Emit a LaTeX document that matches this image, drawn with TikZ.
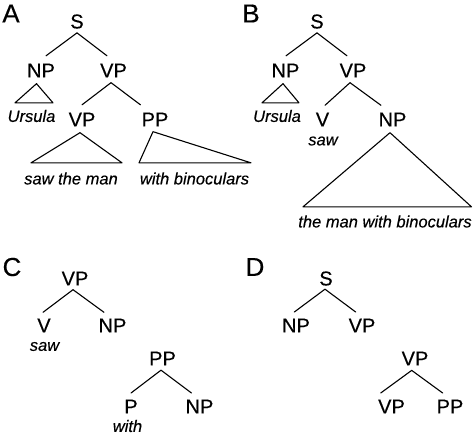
\documentclass[tikz,border=0pt]{standalone}
\usepackage{fontspec}
\setmainfont{Liberation Sans}[FakeBold=0.35]
\begin{document}
\begin{tikzpicture}[x=1pt,y=-1pt,
  lab/.style={font=\fontsize{20}{24}\selectfont, inner sep=0pt, outer sep=0pt},
  wrd/.style={font=\fontsize{16.5}{20}\selectfont\itshape, inner sep=0pt, outer sep=0pt},
  pan/.style={font=\fontsize{26}{30}\selectfont, inner sep=0pt},
  ln/.style={line width=1.1pt, line join=round, line cap=round}]
\useasboundingbox (0,0) rectangle (475,434);

% ---------- Panel A ----------
\node[pan] (lA) at (11,13.5) {A};
\node[lab] (AS) at (77,21.5) {S};
\node[lab] (ANP) at (41,70.5) {NP};
\node[lab] (AVP) at (113.5,70.5) {VP};
\node[wrd] (AUrs) at (31.5,116) {Ursula};
\node[lab] (AVPb) at (82,119.5) {VP};
\node[lab] (APP) at (155,119.5) {PP};
\node[wrd] (Asaw) at (71,178.5) {saw the man};
\node[wrd] (Awith) at (194.5,178.5) {with binoculars};

\draw[ln] ([yshift=-4.3pt]AS.south) -- ([shift={(5pt,7.8pt)}]ANP.north);
\draw[ln] ([yshift=-4.3pt]AS.south) -- ([shift={(-6.5pt,7.8pt)}]AVP.north);
\draw[ln] ([shift={(-2.5pt,-5.3pt)}]AVP.south) -- ([shift={(0pt,7.8pt)}]AVPb.north);
\draw[ln] ([shift={(-2.5pt,-5.3pt)}]AVP.south) -- ([shift={(-14.5pt,7.8pt)}]APP.north);
\draw[ln] ([shift={(-4.5pt,-6.3pt)}]ANP.south) -- ([shift={(-16.5pt,7.1pt)}]AUrs.north) -- ([shift={(21.5pt,7.1pt)}]AUrs.north) -- cycle;
\draw[ln] ([shift={(-2pt,-6.3pt)}]AVPb.south) -- ([shift={(-40pt,9.6pt)}]Asaw.north) -- ([shift={(51pt,9.6pt)}]Asaw.north) -- cycle;
\draw[ln] ([shift={(-2pt,-5.3pt)}]APP.south) -- ([shift={(-55.5pt,9.6pt)}]Awith.north) -- ([shift={(56.5pt,9.6pt)}]Awith.north) -- cycle;

% ---------- Panel B ----------
\node[pan] (lB) at (251,13.5) {B};
\node[lab] (BS) at (317,21.5) {S};
\node[lab] (BNP) at (285.5,70.5) {NP};
\node[lab] (BVP) at (353,70.5) {VP};
\node[wrd] (BUrs) at (277,116) {Ursula};
\node[lab] (BV) at (322.5,119.5) {V};
\node[lab] (BNPb) at (392.5,119.5) {NP};
\node[wrd] (Bsaw) at (323,141) {saw};
\node[wrd] (Bphr) at (385,221.5) {the man with binoculars};

\draw[ln] ([yshift=-4.3pt]BS.south) -- ([shift={(0.5pt,7.8pt)}]BNP.north);
\draw[ln] ([yshift=-4.3pt]BS.south) -- ([shift={(-6pt,7.8pt)}]BVP.north);
\draw[ln] ([shift={(-3pt,-5.3pt)}]BVP.south) -- ([shift={(2.5pt,7.3pt)}]BV.north);
\draw[ln] ([shift={(-3pt,-5.3pt)}]BVP.south) -- ([shift={(-11.5pt,7.3pt)}]BNPb.north);
\draw[ln] ([shift={(-2.5pt,-6.3pt)}]BNP.south) -- ([shift={(-15pt,7.1pt)}]BUrs.north) -- ([shift={(22pt,7.1pt)}]BUrs.north) -- cycle;
\draw[ln] ([shift={(-2.5pt,-6.3pt)}]BNPb.south) -- ([shift={(-82pt,8.6pt)}]Bphr.north) -- ([shift={(86.5pt,8.6pt)}]Bphr.north) -- cycle;

% ---------- Panel C ----------
\node[pan] (lC) at (12,267) {C};
\node[lab] (CVP) at (75,278.5) {VP};
\node[lab] (CV) at (44,325.5) {V};
\node[lab] (CNP) at (112.5,325.5) {NP};
\node[wrd] (Csaw) at (44.5,346.5) {saw};
\node[lab] (CPP) at (162.5,358.5) {PP};
\node[lab] (CP) at (131,406.5) {P};
\node[lab] (CNPb) at (199.5,406.5) {NP};
\node[wrd] (Cwith) at (127.5,426) {with};

\draw[ln] ([shift={(-2pt,-4.3pt)}]CVP.south) -- ([shift={(-1pt,6.3pt)}]CV.north);
\draw[ln] ([shift={(-2pt,-4.3pt)}]CVP.south) -- ([shift={(-8.5pt,6.3pt)}]CNP.north);
\draw[ln] ([shift={(-1.5pt,-4.8pt)}]CPP.south) -- ([shift={(0pt,6.6pt)}]CP.north);
\draw[ln] ([shift={(-1.5pt,-4.8pt)}]CPP.south) -- ([shift={(-8pt,6.6pt)}]CNPb.north);

% ---------- Panel D ----------
\node[pan] (lD) at (255,267) {D};
\node[lab] (DS) at (326,278.5) {S};
\node[lab] (DNP) at (296,325.5) {NP};
\node[lab] (DVP) at (362,325.5) {VP};
\node[lab] (DVPa) at (415,358.5) {VP};
\node[lab] (DVPb) at (391.5,406.5) {VP};
\node[lab] (DPP) at (450,406.5) {PP};

\draw[ln] ([shift={(-1pt,-3.6pt)}]DS.south) -- ([shift={(-1.7pt,6.6pt)}]DNP.north);
\draw[ln] ([shift={(-1pt,-3.6pt)}]DS.south) -- ([shift={(-6.3pt,6.6pt)}]DVP.north);
\draw[ln] ([shift={(-3.3pt,-5pt)}]DVPa.south) -- ([shift={(-10.8pt,6.6pt)}]DVPb.north);
\draw[ln] ([shift={(-3.3pt,-5pt)}]DVPa.south) -- ([shift={(-7.3pt,6.6pt)}]DPP.north);
\end{tikzpicture}
\end{document}
